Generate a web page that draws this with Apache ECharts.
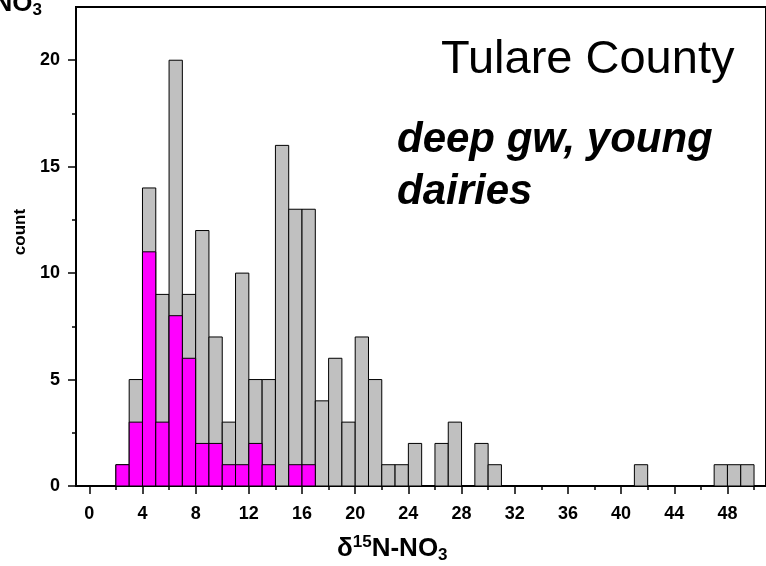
<!DOCTYPE html>
<html><head><meta charset="utf-8">
<script src="https://cdn.jsdelivr.net/npm/echarts@6/dist/echarts.min.js"></script>
<style>html,body{margin:0;padding:0;background:#fff}#c{width:766px;height:566px}</style>
</head><body><div id="c"></div>
<script>
// bin starts (each bin is 1 permil wide)
const binStarts = [2,3,4,5,6,7,8,9,10,11,12,13,14,15,16,17,18,19,20,21,22,23,24,25,26,27,28,29,30,31,32,33,34,35,36,37,38,39,40,41,42,43,44,45,46,47,48,49];
const totalCounts = [1,5,14,9,20,9,12,7,3,10,5,5,16,13,13,4,6,3,7,5,1,1,2,0,2,3,0,2,1,0,0,0,0,0,0,0,0,0,0,1,0,0,0,0,0,1,1,1];
const dairyCounts = [1,3,11,3,8,6,2,2,1,1,2,1,0,1,1,0,0,0,0,0,0,0,0,0,0,0,0,0,0,0,0,0,0,0,0,0,0,0,0,0,0,0,0,0,0,0,0,0];
const xMajorTicks = [0,4,8,12,16,20,24,28,32,36,40,44,48];
const xMinorTicks = [2,6,10,14,18,22,26,30,34,38,42,46,50];
const yMajorTicks = [0,5,10,15,20];
const yMinorTicks = [2.5,7.5,12.5,17.5];

const FONT = 'Liberation Sans, Arial, sans-serif';
const X_MIN = -1, X_MAX = 50.9, Y_MIN = 0, Y_MAX = 22.5;

function makeRender(color){
  return function(params, api){
    const x0 = api.value(0), v = api.value(1);
    if (!v) return null;
    const p0 = api.coord([x0, 0]);
    const p1 = api.coord([x0 + 1, v]);
    return {type:'rect', shape:{x:p0[0], y:p1[1], width:p1[0]-p0[0], height:p0[1]-p1[1]},
      style:{fill:color, stroke:'#000', lineWidth:1}};
  };
}
const totalData = binStarts.map((b,i)=>[b,totalCounts[i]]);
const dairyData = binStarts.map((b,i)=>[b,dairyCounts[i]]);

const chart = echarts.init(document.getElementById('c'), null, {renderer:'canvas'});
const gridBox = {left:76, right:-4, top:7, bottom:80};
chart.setOption({
  animation:false,
  backgroundColor:'#fff',
  grid:[
    Object.assign({show:true, borderColor:'#000', borderWidth:2, backgroundColor:'transparent', containLabel:false}, gridBox),
    Object.assign({show:false, containLabel:false}, gridBox)
  ],
  xAxis:[{
    gridIndex:0, type:'value', min:X_MIN, max:X_MAX, position:'bottom',
    axisLine:{show:true, onZero:false, lineStyle:{color:'#000', width:2}},
    axisTick:{show:true, customValues:xMajorTicks, length:8, lineStyle:{color:'#000', width:1.5}},
    axisLabel:{customValues:xMajorTicks, fontSize:18, fontWeight:'bold', color:'#000', fontFamily:FONT, margin:19},
    splitLine:{show:false}
  },{
    gridIndex:1, type:'value', min:X_MIN, max:X_MAX, position:'bottom',
    axisLine:{show:false, onZero:false},
    axisTick:{show:true, customValues:xMinorTicks, length:4, lineStyle:{color:'#000', width:1.5}},
    axisLabel:{show:false}, splitLine:{show:false}
  }],
  yAxis:[{
    gridIndex:0, type:'value', min:Y_MIN, max:Y_MAX, position:'left',
    axisLine:{show:true, onZero:false, lineStyle:{color:'#000', width:2}},
    axisTick:{show:true, customValues:yMajorTicks, length:8, lineStyle:{color:'#000', width:1.5}},
    axisLabel:{customValues:yMajorTicks, fontSize:18, fontWeight:'bold', color:'#000', fontFamily:FONT, margin:16},
    splitLine:{show:false}
  },{
    gridIndex:1, type:'value', min:Y_MIN, max:Y_MAX, position:'left',
    axisLine:{show:false, onZero:false},
    axisTick:{show:true, customValues:yMinorTicks, length:4, lineStyle:{color:'#000', width:1.5}},
    axisLabel:{show:false}, splitLine:{show:false}
  }],
  series:[
    {type:'custom', xAxisIndex:0, yAxisIndex:0, renderItem:makeRender('#C0C0C0'), data:totalData, z:2},
    {type:'custom', xAxisIndex:0, yAxisIndex:0, renderItem:makeRender('#FF00FF'), data:dairyData, z:3}
  ],
  graphic:[
    {type:'text', x:441, y:60, style:{text:'Tulare County', font:'normal 47px '+FONT, fill:'#000', textAlign:'left', textVerticalAlign:'middle'}},
    {type:'text', x:397, y:140, style:{text:'deep gw, young', font:'italic bold 42px '+FONT, fill:'#000', textAlign:'left', textVerticalAlign:'middle'}},
    {type:'text', x:397, y:192, style:{text:'dairies', font:'italic bold 42px '+FONT, fill:'#000', textAlign:'left', textVerticalAlign:'middle'}},
    {type:'text', x:20, y:232, rotation:Math.PI/2, style:{text:'count', font:'bold 17px '+FONT, fill:'#000', textAlign:'center', textVerticalAlign:'middle'}},
    {type:'text', x:337, y:549, style:{
      text:'{b|δ}{sup|15}{b|N-NO}{sub|3}', textAlign:'left', textVerticalAlign:'middle',
      rich:{
        b:{fontSize:26, fontWeight:'bold', fontFamily:FONT, color:'#000', lineHeight:30, verticalAlign:'middle'},
        sup:{fontSize:17, fontWeight:'bold', fontFamily:FONT, color:'#000', lineHeight:17, verticalAlign:'top'},
        sub:{fontSize:17, fontWeight:'bold', fontFamily:FONT, color:'#000', lineHeight:10, verticalAlign:'bottom'}
      }}},
    {type:'text', x:42, y:4, style:{
      text:'{b|N-NO}{sub|3}', textAlign:'right', textVerticalAlign:'middle',
      rich:{
        b:{fontSize:26, fontWeight:'bold', fontFamily:FONT, color:'#000', lineHeight:30, verticalAlign:'middle'},
        sub:{fontSize:17, fontWeight:'bold', fontFamily:FONT, color:'#000', lineHeight:10, verticalAlign:'bottom'}
      }}}
  ]
});
</script></body></html>
